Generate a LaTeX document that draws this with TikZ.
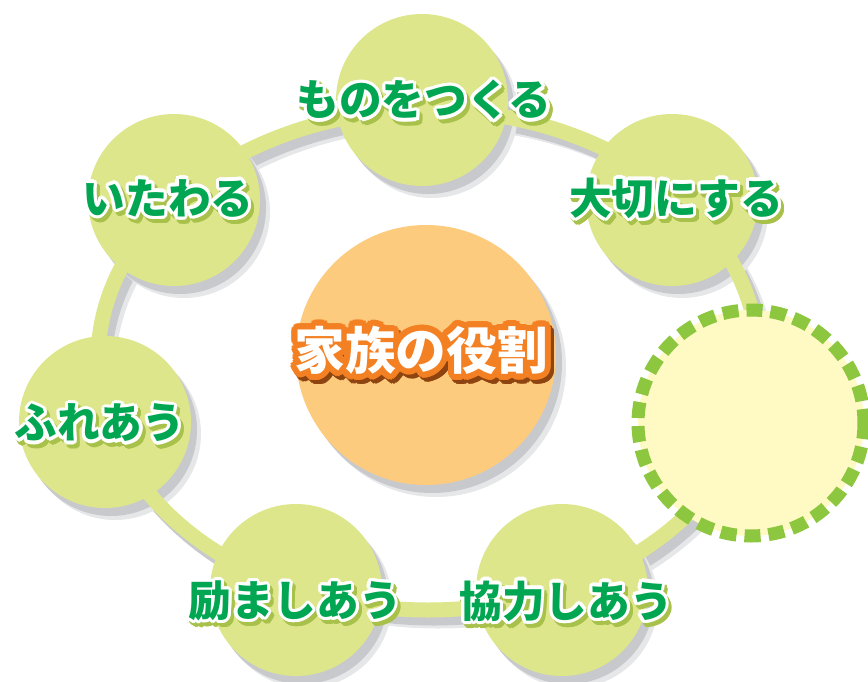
\documentclass[tikz,border=0pt]{standalone}
\usepackage{fontspec}
\newfontfamily\jpfont{Noto Sans CJK JP}[BoldFont={Noto Sans CJK JP Black}]
\usetikzlibrary{calc}
\definecolor{leaf}{HTML}{DDE68A}
\definecolor{dusk}{HTML}{C8C9CC}
\definecolor{core}{HTML}{FDCB7E}
\definecolor{dashgreen}{HTML}{8DC63F}
\definecolor{pale}{HTML}{FFF9C4}
\definecolor{textgreen}{HTML}{00A651}
\definecolor{moss}{HTML}{A8C14B}
\definecolor{rim}{HTML}{F38023}
\definecolor{rimdark}{HTML}{8E4410}
% label with outline and drop shadow: name, position, text
\newcommand{\GreenLabel}[3]{%
  \foreach \a in {0,22.5,...,337.5}
    \node[lbl,text=moss] at ($(#2)+(\a:2.4pt)+(2.2pt,-3pt)$) {#3};
  \foreach \a in {0,22.5,...,337.5}
    \node[lbl,text=white] at ($(#2)+(\a:2.4pt)$) {#3};
  \node[lbl,text=textgreen] (#1) at (#2) {#3};
}
\newcommand{\TitleLabel}[3]{%
  \foreach \a in {0,15,...,345}
    \node[ttl,text=rimdark] at ($(#2)+(\a:4.5pt)+(2.5pt,-3pt)$) {#3};
  \foreach \r in {2.2pt,4.5pt}
    \foreach \a in {0,15,...,345}
      \node[ttl,text=rim] at ($(#2)+(\a:\r)$) {#3};
  \node[ttl,text=white] (#1) at (#2) {#3};
}

\begin{document}
\begin{tikzpicture}[x=0.75pt,y=-0.75pt,
  petal/.style={circle,fill=leaf,minimum size=129pt,inner sep=0pt},
  blot/.style={circle,fill=dusk,minimum size=#1,inner sep=0pt},
  lbl/.style={font=\jpfont\bfseries\fontsize{32}{32}\selectfont,inner sep=0pt},
  ttl/.style={font=\jpfont\bfseries\fontsize{38}{38}\selectfont,inner sep=0pt}]
\useasboundingbox (0,0) rectangle (868,682);
\coordinate (cMake) at (422,100);
\coordinate (cCare) at (672,200);
\coordinate (cNew) at (751,423);
\coordinate (cCoop) at (562,590);
\coordinate (cCheer) at (296,590);
\coordinate (cTouch) at (105,422);
\coordinate (cKind) at (174,200);
\coordinate (cRole) at (426,355);
% shadows
\draw[line width=11.25pt,dusk!45] (438,371) ellipse (330 and 250);
\draw[line width=11.25pt,dusk] (434,368) ellipse (330 and 250);
\foreach \c in {cMake,cCare,cCoop,cCheer,cTouch,cKind}{
  \node[blot=129pt,fill=dusk!45] at ($(\c)+(10,12)$) {};
  \node[blot=129pt] at ($(\c)+(6,8)$) {};
}
\node[blot=195pt,fill=dusk!45] at ($(cRole)+(10,12)$) {};
\node[blot=195pt] at ($(cRole)+(6,8)$) {};
% ring and circles
\draw[line width=11.25pt,leaf] (428,360) ellipse (330 and 250);
\node[petal] (make) at (cMake) {};
\node[petal] (care) at (cCare) {};
\node[petal] (coop) at (cCoop) {};
\node[petal] (cheer) at (cCheer) {};
\node[petal] (touch) at (cTouch) {};
\node[petal] (kind) at (cKind) {};
\node[circle,fill=core,minimum size=195pt,inner sep=0pt] (role) at (cRole) {};
\fill[pale] (cNew) circle (113);
\draw[dashgreen,line width=9.75pt,dash pattern=on 12pt off 6pt] (cNew) circle (113);
% texts
\GreenLabel{t-make}{424,100}{ものをつくる}
\GreenLabel{t-care}{676,198}{大切にする}
\GreenLabel{t-kind}{168,198}{いたわる}
\GreenLabel{t-touch}{100,423}{ふれあう}
\GreenLabel{t-cheer}{295,601}{励ましあう}
\GreenLabel{t-coop}{566,601}{協力しあう}
\TitleLabel{t-role}{421,350}{家族の役割}
\end{tikzpicture}
\end{document}
